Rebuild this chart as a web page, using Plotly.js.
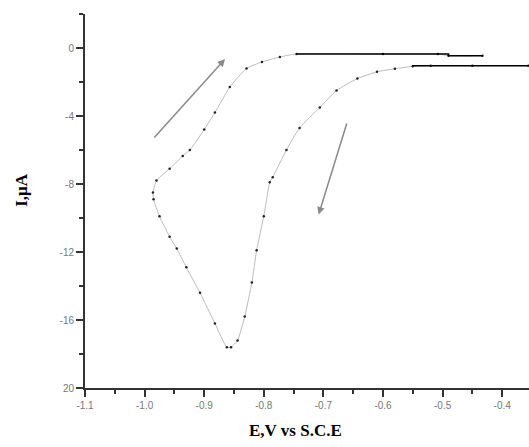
<!DOCTYPE html>
<html>
<head>
<meta charset="utf-8">
<script src="https://cdn.plot.ly/plotly-3.0.1.min.js"></script>
<style>html,body{margin:0;padding:0;background:#fff;}#chart{width:529px;height:447px;}</style>
</head>
<body>
<div id="chart"></div>
<script>
// Potential (V vs S.C.E) and current (µA), in scan order
const potential = [-0.356, -0.45, -0.52, -0.55, -0.58, -0.61, -0.643, -0.678, -0.706, -0.74, -0.762, -0.785, -0.79, -0.80, -0.812, -0.82, -0.832, -0.844, -0.855, -0.862, -0.882, -0.907, -0.93, -0.946, -0.958, -0.975, -0.985, -0.986, -0.98, -0.958, -0.936, -0.924, -0.90, -0.882, -0.857, -0.829, -0.803, -0.773, -0.745, -0.60, -0.508, -0.49, -0.433];
const current   = [-1.04, -1.04, -1.04, -1.08, -1.22, -1.4, -1.8, -2.5, -3.5, -4.7, -6.0, -7.6, -7.9, -9.9, -11.9, -13.8, -15.8, -17.2, -17.6, -17.6, -16.2, -14.4, -12.9, -11.8, -11.1, -9.9, -8.9, -8.5, -7.8, -7.1, -6.35, -6.0, -4.8, -3.8, -2.3, -1.2, -0.82, -0.53, -0.35, -0.35, -0.35, -0.45, -0.45];
// flat (solid) parts of the curve: index ranges into the arrays above
const lowerFlat = [0, 4];
const upperFlat = [38, 43];
// scan-direction arrows: [tailE, tailI, headE, headI]
const arrowReverse = [-0.986, -5.35, -0.865, -0.65];
const arrowForward = [-0.66, -4.35, -0.708, -9.8];
const xTicks = [-1.1, -1.0, -0.9, -0.8, -0.7, -0.6, -0.5, -0.4];
const xTickText = ["-1.1", "-1.0", "-0.9", "-0.8", "-0.7", "-0.6", "-0.5", "-0.4"];
const yTicks = [0, -4, -8, -12, -16, -20];
const yTickText = ["0", "-4", "-8", "-12", "-16", "20"];

const traces = [
  {x: potential, y: current, mode: 'lines+markers', type: 'scatter',
   line: {color: '#bcbcbc', width: 1, shape: 'spline', smoothing: 0.5},
   marker: {color: '#222', size: 2.5}, hoverinfo: 'skip'},
  {x: potential.slice(lowerFlat[0], lowerFlat[1]), y: current.slice(lowerFlat[0], lowerFlat[1]),
   mode: 'lines', type: 'scatter', line: {color: '#000', width: 1.5, shape: 'hv'}},
  {x: potential.slice(upperFlat[0], upperFlat[1]), y: current.slice(upperFlat[0], upperFlat[1]),
   mode: 'lines', type: 'scatter', line: {color: '#000', width: 1.5, shape: 'hv'}}
];

function arrow(a) {
  return {x: a[2], y: a[3], ax: a[0], ay: a[1], xref: 'x', yref: 'y', axref: 'x', ayref: 'y',
    text: '', showarrow: true, arrowhead: 2, arrowsize: 1, arrowwidth: 1.5, arrowcolor: '#8a8a8a'};
}

const layout = {
  width: 529, height: 447,
  margin: {l: 85, r: 0, t: 14, b: 59},
  paper_bgcolor: '#fff', plot_bgcolor: '#fff',
  showlegend: false,
  xaxis: {
    range: [-1.1, -0.355], showgrid: false, zeroline: false,
    showline: true, linecolor: '#333', linewidth: 2,
    ticks: 'outside', ticklen: 7, tickwidth: 2, tickcolor: '#333',
    tickvals: xTicks, ticktext: xTickText,
    tickfont: {family: 'Liberation Sans, Arial', size: 10, color: '#777'},
    minor: {dtick: 0.05, ticks: 'outside', ticklen: 4, tickwidth: 2, tickcolor: '#333', showgrid: false},
    fixedrange: true
  },
  yaxis: {
    range: [-20, 2], showgrid: false, zeroline: false,
    showline: true, linecolor: '#333', linewidth: 2,
    ticks: 'outside', ticklen: 7, tickwidth: 2, tickcolor: '#333',
    tickvals: yTicks, ticktext: yTickText,
    tickfont: {family: 'Liberation Sans, Arial', size: 10, color: '#777'},
    minor: {dtick: 2, ticks: 'outside', ticklen: 4, tickwidth: 2, tickcolor: '#333', showgrid: false},
    fixedrange: true
  },
  annotations: [
    arrow(arrowReverse), arrow(arrowForward),
    {text: '<b>E,V vs S.C.E</b>', xref: 'paper', yref: 'paper', x: 0.475, y: 0, yshift: -42,
     xanchor: 'center', yanchor: 'middle', showarrow: false,
     font: {family: 'Liberation Serif, Times New Roman', size: 17, color: '#000'}},
    {text: '<b>I,μA</b>', xref: 'paper', yref: 'paper', x: 0, xshift: -63, y: 0.53,
     xanchor: 'center', yanchor: 'middle', textangle: -90, showarrow: false,
     font: {family: 'Liberation Serif, Times New Roman', size: 17, color: '#000'}}
  ]
};

Plotly.newPlot('chart', traces, layout, {displayModeBar: false, staticPlot: true});
</script>
</body>
</html>
